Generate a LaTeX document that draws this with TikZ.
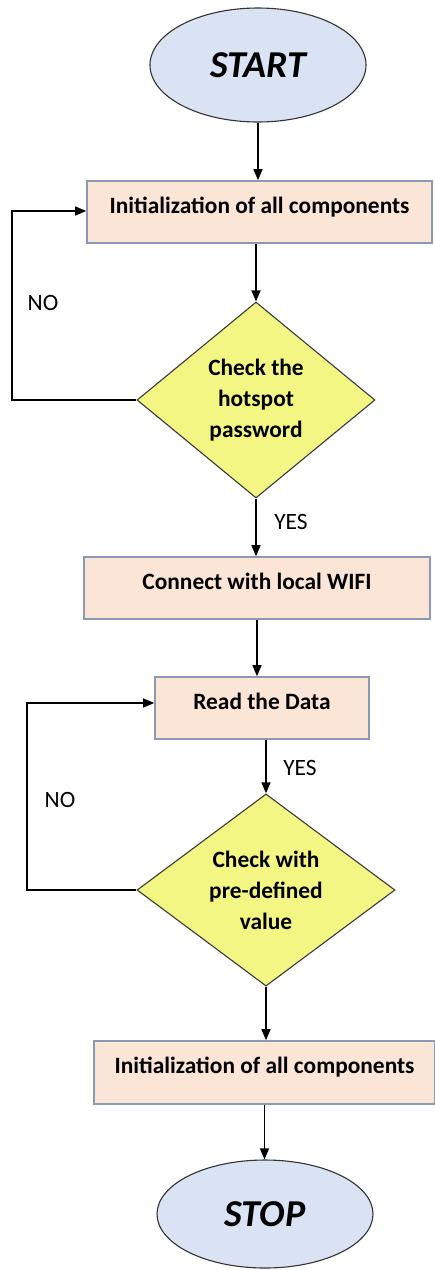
\documentclass[tikz,border=0pt]{standalone}
\usepackage{fontspec}
\setmainfont{Carlito}
\usetikzlibrary{shapes.geometric,arrows.meta}
\definecolor{ovalfill}{HTML}{DAE3F3}
\definecolor{boxfill}{HTML}{FBE5D6}
\definecolor{boxline}{HTML}{8A9AB2}
\definecolor{dfill}{HTML}{F3F683}
\definecolor{dline}{HTML}{3A3A3A}
\tikzset{
  oval/.style={ellipse, draw=black!80, line width=1.1pt, fill=ovalfill, inner sep=0pt,
    font=\fontsize{38}{40}\selectfont\bfseries\itshape},
  procbox/.style={rectangle, draw=boxline, line width=1.6pt, fill=boxfill, inner sep=0pt,
    minimum height=62pt, text height=16pt, text depth=14pt,
    font=\fontsize{23.4}{28}\selectfont\bfseries},
  decision/.style={diamond, draw=dline, line width=1.1pt, fill=dfill, inner sep=0pt,
    align=center, font=\fontsize{23.4}{31}\selectfont\bfseries},
  arr/.style={draw=black, line width=1.3pt, -{Triangle[length=11pt,width=9pt]}},
  plain/.style={draw=black!80, line width=1.3pt},
  lbl/.style={inner sep=0pt, font=\fontsize{23.4}{28}\selectfont}
}
\begin{document}
\begin{tikzpicture}[x=1pt,y=1pt]
\useasboundingbox (0,0) rectangle (435,-1270);
\node[oval, minimum width=216pt, minimum height=114pt] (start) at (258,-65) {START};
\node[procbox, minimum width=345pt] (box1) at (259.5,-212) {Initialization of all components};
\node[decision, minimum width=238pt, minimum height=196pt] (d1) at (256,-400) {Check the\\hotspot\\password};
\node[procbox, minimum width=346pt] (box2) at (257,-588) {Connect with local WIFI};
\node[procbox, minimum width=214pt] (box3) at (262,-708) {Read the Data};
\node[decision, minimum width=258pt, minimum height=186pt] (d2) at (266,-890) {Check with\\pre-defined\\value};
\node[procbox, minimum width=341pt, minimum height=63pt] (box4) at (264.5,-1072.5) {Initialization of all components};
\node[oval, minimum width=216pt, minimum height=108pt] (stop) at (265,-1214) {STOP};

\coordinate (lx1) at (12,0);
\coordinate (lx2) at (27,0);

\draw[arr] (start.south) -- (start.south |- box1.north);
\draw[arr] (box1.south -| d1.north) -- (d1.north);
\draw[arr] (d1.south) -- (d1.south |- box2.north);
\draw[arr] (box2.south) -- (box2.south |- box3.north);
\draw[arr] (box3.south -| d2.north) -- (d2.north);
\draw[arr] (d2.south) -- (d2.south |- box4.north);
\draw[arr] (box4.south) -- (box4.south |- stop.north);

\draw[arr] (d1.west) -- (d1.west -| lx1) |- ([yshift=1pt]box1.west);
\draw[arr] (d2.west) -- (d2.west -| lx2) |- ([yshift=5pt]box3.west);

\node[lbl] (no1) at (43,-303) {NO};
\node[lbl] (yes1) at (291,-522) {YES};
\node[lbl] (yes2) at (300,-768) {YES};
\node[lbl] (no2) at (60,-800) {NO};
\end{tikzpicture}
\end{document}
